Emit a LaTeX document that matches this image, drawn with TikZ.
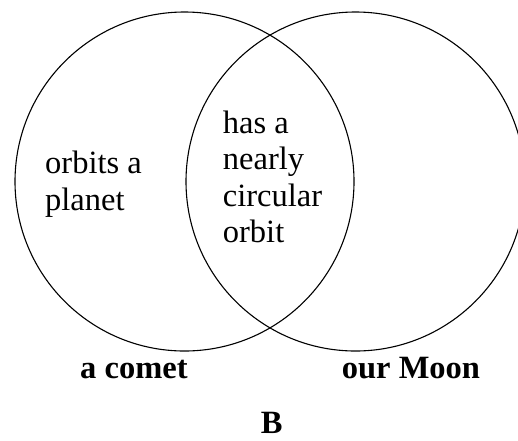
\documentclass[tikz,border=0pt]{standalone}
\usepackage{fontspec}
\setmainfont{Liberation Serif}
\usetikzlibrary{positioning}
\tikzset{
  setc/.style={circle, draw=black, line width=1.1pt, inner sep=0pt, minimum size=339pt},
  inlab/.style={inner sep=0pt, align=left, anchor=base west, font=\fontsize{32.5}{36.5}\selectfont},
  setlab/.style={inner sep=0pt, anchor=base west, font=\fontsize{32.5}{36.5}\selectfont\bfseries},
}
\begin{document}
\begin{tikzpicture}[x=1pt, y=-1pt]
  \useasboundingbox (0,0) rectangle (518,440);
  % the two sets
  \node[setc] (comet) at (184.5,181.5) {};
  \node[setc] (moon) at (355.5,181.5) {};
  % region texts (anchored at the last line)
  \node[inlab] (only) at (45,210) {orbits a\\planet};
  \node[inlab] (both) at (222.7,242.7) {has a\\nearly\\circular\\orbit};
  % set names
  \node[setlab] (cometlab) at (80,378) {a comet};
  \node[setlab] (moonlab) at (341.7,378) {our Moon};
  \node[setlab] (title) at (260.7,433) {B};
\end{tikzpicture}
\end{document}
